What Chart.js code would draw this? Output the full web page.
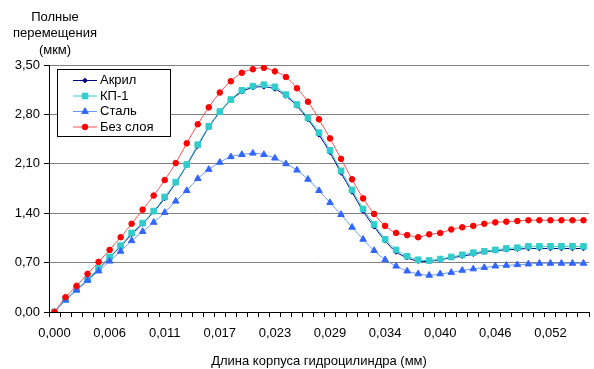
<!DOCTYPE html>
<html>
<head>
<meta charset="utf-8">
<script src="https://cdn.jsdelivr.net/npm/chart.js@4"></script>
<style>
  html, body { margin: 0; padding: 0; background: #fff; }
  #wrap { width: 594px; height: 369px; }
</style>
</head>
<body>
<div id="wrap"><canvas id="chart" width="594" height="369"></canvas></div>
<script>
// x: длина корпуса, шаг 0,00115 мм (49 точек)
const labels = ['0,000','0,001','0,002','0,003','0,005','0,006','0,007','0,008','0,009','0,010',
    '0,011','0,013','0,014','0,015','0,016','0,017','0,018','0,020','0,021','0,022',
    '0,023','0,024','0,025','0,026','0,028','0,029','0,030','0,031','0,032','0,033',
    '0,034','0,036','0,037','0,038','0,039','0,040','0,041','0,043','0,044','0,045',
    '0,046','0,047','0,048','0,049','0,051','0,052','0,053','0,054','0,055'];

const akril = [0, 0.17, 0.31, 0.45, 0.61, 0.77, 0.93, 1.10, 1.25, 1.42,
    1.61, 1.83, 2.08, 2.35, 2.62, 2.83, 3.00, 3.12, 3.18, 3.19, 3.16, 3.06, 2.92, 2.73, 2.51,
    2.26, 1.97, 1.70, 1.43, 1.21, 1.01, 0.85, 0.77, 0.72, 0.72, 0.74, 0.77, 0.79, 0.82,
    0.85, 0.87, 0.88, 0.89, 0.90, 0.90, 0.90, 0.90, 0.90, 0.90];
const kp1 = [0, 0.175, 0.32, 0.46, 0.62, 0.78, 0.94, 1.12, 1.26, 1.43,
    1.63, 1.84, 2.09, 2.37, 2.63, 2.84, 3.01, 3.14, 3.20, 3.22, 3.19, 3.08, 2.94, 2.75, 2.54,
    2.29, 2.00, 1.73, 1.46, 1.24, 1.03, 0.88, 0.79, 0.74, 0.73, 0.75, 0.78, 0.81, 0.84,
    0.86, 0.88, 0.90, 0.91, 0.93, 0.93, 0.93, 0.93, 0.93, 0.93];
const stal = [0, 0.17, 0.31, 0.45, 0.58, 0.72, 0.86, 1.01, 1.14, 1.27,
    1.41, 1.57, 1.72, 1.89, 2.02, 2.12, 2.20, 2.23, 2.25, 2.23, 2.18, 2.10, 2.01, 1.88, 1.72,
    1.55, 1.38, 1.20, 1.03, 0.87, 0.74, 0.65, 0.58, 0.54, 0.52, 0.54, 0.56, 0.59, 0.61,
    0.63, 0.65, 0.66, 0.67, 0.68, 0.69, 0.69, 0.69, 0.69, 0.69];
const bezSloya = [0, 0.21, 0.37, 0.54, 0.71, 0.88, 1.06, 1.25, 1.45, 1.65,
    1.87, 2.11, 2.39, 2.66, 2.90, 3.11, 3.27, 3.39, 3.44, 3.46, 3.41, 3.33, 3.17, 2.98, 2.73,
    2.46, 2.17, 1.88, 1.61, 1.39, 1.22, 1.12, 1.09, 1.06, 1.10, 1.12, 1.17, 1.20, 1.22,
    1.25, 1.27, 1.28, 1.29, 1.30, 1.30, 1.30, 1.30, 1.30, 1.30];

const FONT = 'Arial, "Liberation Sans", sans-serif';

const yTitle = {
    id: 'yTitle',
    afterDraw(chart) {
        const ctx = chart.ctx;
        ctx.save();
        ctx.font = '13px ' + FONT;
        ctx.fillStyle = '#000';
        ctx.textAlign = 'center';
        ctx.textBaseline = 'middle';
        ['Полные', 'перемещения', '(мкм)'].forEach((t, i) => ctx.fillText(t, 55, 17 + i * 16.5));
        ctx.restore();
    }
};

const boxLegend = {
    id: 'boxLegend',
    afterDraw(chart) {
        const ctx = chart.ctx;
        const x0 = chart.chartArea.left + 8, y0 = chart.chartArea.top + 4;
        ctx.save();
        ctx.fillStyle = '#fff';
        ctx.fillRect(x0, y0, 113, 67);
        ctx.strokeStyle = '#000';
        ctx.lineWidth = 1;
        ctx.strokeRect(x0 + 0.5, y0 + 0.5, 113, 67);
        ctx.font = '13px ' + FONT;
        ctx.textBaseline = 'middle';
        chart.data.datasets.forEach((ds, i) => {
            const y = y0 + 11.5 + i * 15.5;
            ctx.strokeStyle = ds.borderColor;
            ctx.beginPath();
            ctx.moveTo(x0 + 16, y);
            ctx.lineTo(x0 + 40, y);
            ctx.stroke();
            ctx.fillStyle = ds.pointBackgroundColor;
            ctx.strokeStyle = ds.pointBorderColor;
            Chart.helpers.drawPoint(ctx, {
                pointStyle: ds.pointStyle, radius: ds.pointRadius, rotation: 0, borderWidth: 1
            }, x0 + 28, y);
            ctx.fillStyle = '#000';
            ctx.fillText(ds.label, x0 + 43, y);
        });
        ctx.restore();
    }
};

const mk = (label, data, line, mark, style, r, order) => ({
    label, data, order,
    borderColor: line, borderWidth: 1,
    pointStyle: style, pointRadius: r, pointHoverRadius: r,
    pointBackgroundColor: mark, pointBorderColor: mark, pointBorderWidth: 1,
    tension: 0.35, fill: false
});

new Chart(document.getElementById('chart'), {
    type: 'line',
    data: {
        labels,
        datasets: [
            mk('Акрил', akril, '#000080', '#000080', 'rectRot', 2.3, 4),
            mk('КП-1', kp1, '#33CCCC', '#33CCCC', 'rect', 4.0, 3),
            mk('Сталь', stal, '#6699FF', '#3366FF', 'triangle', 3.8, 2),
            mk('Без слоя', bezSloya, '#FF5050', '#FF0000', 'circle', 2.8, 1)
        ]
    },
    options: {
        responsive: false,
        animation: false,
        layout: { padding: { top: 65, right: 1, left: 0, bottom: 0 } },
        plugins: { legend: { display: false }, tooltip: { enabled: false } },
        scales: {
            x: {
                offset: true,
                grid: { offset: true, drawOnChartArea: false, drawTicks: true, tickLength: 5, color: '#000' },
                border: { display: true, color: '#000' },
                ticks: {
                    autoSkip: false, maxRotation: 0, padding: 9,
                    color: '#000', font: { family: FONT, size: 13 },
                    callback: (v, i) => (i % 5 === 0 ? labels[i] : '')
                },
                title: {
                    display: true, text: 'Длина корпуса гидроцилиндра (мм)',
                    color: '#000', font: { family: FONT, size: 13 }, padding: { top: 0, bottom: 0 }
                },
                afterFit: s => { s.height = 57; }
            },
            y: {
                min: 0, max: 3.5,
                grid: { color: '#808080', tickColor: '#000', tickLength: 5 },
                border: { display: true, color: '#000' },
                ticks: {
                    stepSize: 0.7, padding: 4, color: '#000', font: { family: FONT, size: 13 },
                    callback: v => v.toFixed(2).replace('.', ',')
                },
                afterFit: s => { s.width = 49; }
            }
        }
    },
    plugins: [yTitle, boxLegend]
});
</script>
</body>
</html>
